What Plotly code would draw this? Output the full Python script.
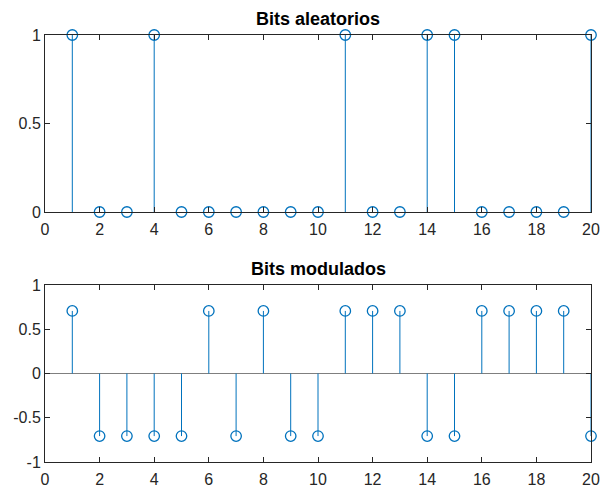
import plotly.graph_objects as go
from plotly.subplots import make_subplots

n = list(range(1, 21))
bits = [1, 0, 0, 1, 0, 0, 0, 0, 0, 0, 1, 0, 0, 1, 1, 0, 0, 0, 0, 1]
mod = [0.7071, -0.7071, -0.7071, -0.7071, -0.7071, 0.7071, -0.7071, 0.7071, -0.7071, -0.7071,
       0.7071, 0.7071, 0.7071, -0.7071, -0.7071, 0.7071, 0.7071, 0.7071, 0.7071, -0.7071]
x_ticks = list(range(0, 21, 2))

BLUE = "#0072BD"
AX = "#262626"
FONT = "Liberation Sans, Arial, sans-serif"

fig = make_subplots(rows=2, cols=1)


def stem(xs, ys, row):
    sx, sy = [], []
    for a, b in zip(xs, ys):
        sx += [a, a, None]
        sy += [0, b, None]
    fig.add_trace(go.Scatter(x=sx, y=sy, mode="lines", line=dict(color=BLUE, width=1),
                             hoverinfo="skip", showlegend=False, cliponaxis=False), row=row, col=1)
    fig.add_trace(go.Scatter(x=xs, y=ys, mode="markers",
                             marker=dict(symbol="circle-open", size=10.5, color=BLUE,
                                         line=dict(width=1.3, color=BLUE)),
                             showlegend=False, cliponaxis=False), row=row, col=1)


stem(n, bits, 1)
stem(n, mod, 2)

axcommon = dict(showline=True, linecolor=AX, linewidth=1, mirror="ticks", ticks="inside",
                ticklen=5, tickcolor=AX, showgrid=False, automargin=False,
                tickfont=dict(family=FONT, size=16, color=AX))

fig.update_xaxes(range=[0, 20], tickvals=x_ticks, zeroline=False, ticklabelstandoff=3, **axcommon)
fig.update_xaxes(domain=[0, 1])
fig.update_yaxes(row=1, col=1, range=[0, 1], tickvals=[0, 0.5, 1], ticktext=["0", "0.5", "1"],
                 zeroline=False, domain=[0.5855, 1.0], **axcommon)
fig.update_yaxes(row=2, col=1, range=[-1, 1], tickvals=[-1, -0.5, 0, 0.5, 1],
                 ticktext=["-1", "-0.5", "0", "0.5", "1"],
                 zeroline=True, zerolinecolor="#7f7f7f", zerolinewidth=1.3,
                 domain=[0.0, 0.4145], **axcommon)

fig.update_layout(
    width=601, height=491,
    margin=dict(l=45, r=10, t=35, b=29),
    paper_bgcolor="white", plot_bgcolor="white",
    font=dict(family=FONT, color=AX),
    annotations=[
        dict(text="<b>Bits aleatorios</b>", x=0.5, xref="paper", y=1.0, yref="paper",
             yanchor="bottom", yshift=4, showarrow=False, font=dict(size=18, color="black", family=FONT)),
        dict(text="<b>Bits modulados</b>", x=0.5, xref="paper", y=0.4145, yref="paper",
             yanchor="bottom", yshift=4, showarrow=False, font=dict(size=18, color="black", family=FONT)),
    ],
)

fig.write_html("out.html")
